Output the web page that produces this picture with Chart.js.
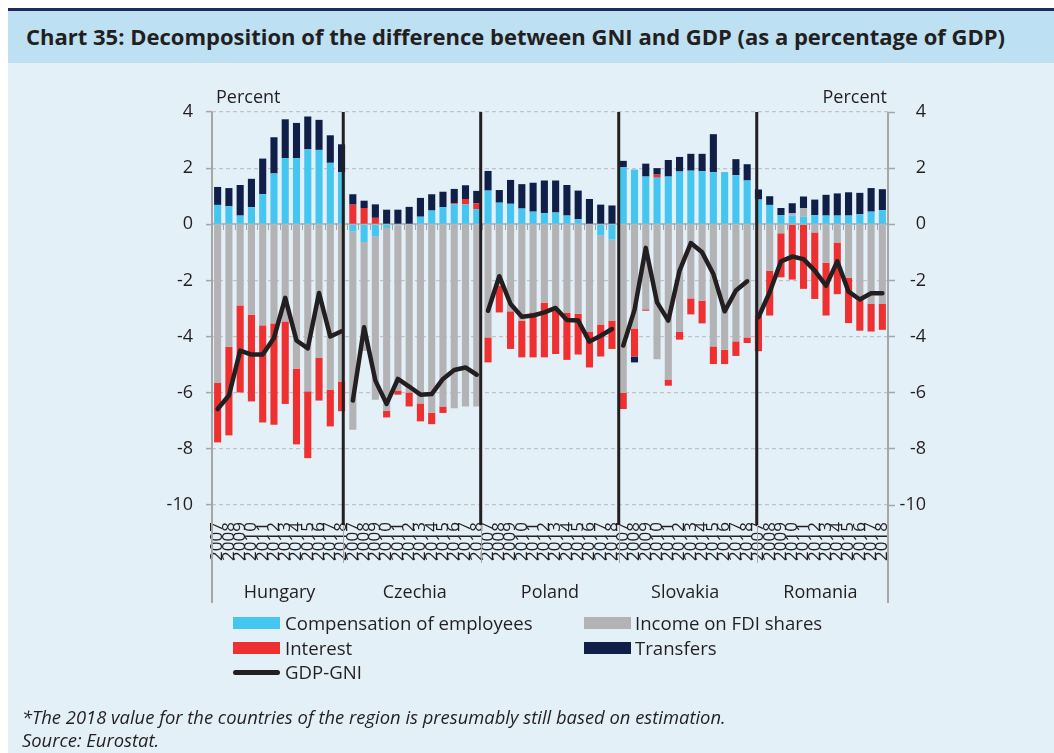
<!DOCTYPE html>
<html>
<head>
<meta charset="utf-8">
<script src="https://cdn.jsdelivr.net/npm/chart.js@4.4.1/dist/chart.umd.min.js"></script>
<style>
  html, body { margin: 0; padding: 0; background: #ffffff; }
  #page { position: relative; width: 1054px; height: 753px; overflow: hidden;
          font-family: "Open Sans", sans-serif; color: #231F20; }
  .rule  { position: absolute; left: 8px; top: 8px; width: 1046px; height: 3px; background: #1d2a5b; }
  .band  { position: absolute; left: 8px; top: 11px; width: 1046px; height: 52px; background: #BEE0F3; }
  .panel { position: absolute; left: 8px; top: 63px; width: 1046px; height: 690px; background: #E3F0F8; }
  #title { position: absolute; left: 26px; top: 21px; font-size: 22px; line-height: 30px; font-weight: 700;
           white-space: nowrap; transform-origin: 0 50%; }
  #chart { position: absolute; left: 0; top: 63px; }
  .unit  { position: absolute; top: 84px; font-size: 18px; line-height: 24px; white-space: nowrap; }
  .key   { position: absolute; font-size: 18.6px; line-height: 24px; white-space: nowrap; }
  .sw    { position: absolute; width: 47px; height: 12px; }
  .ln    { position: absolute; width: 47px; height: 5px; border-radius: 3px; background: #231F20; }
  .note  { position: absolute; left: 22px; font-size: 18.4px; line-height: 22px; font-style: italic; white-space: nowrap; }
</style>
</head>
<body>
<div id="page">
  <div class="rule"></div>
  <div class="band"></div>
  <div class="panel"></div>
  <div id="title">Chart 35: Decomposition of the difference between GNI and GDP (as a percentage of GDP)</div>
  <canvas id="chart" width="1054" height="690"></canvas>
  <div class="unit" style="left:216px;">Percent</div>
  <div class="unit" style="right:167px;">Percent</div>

  <div class="sw" style="left:233px; top:617px; background:#45C6F0;"></div>
  <div class="key" style="left:285px; top:611px;">Compensation of employees</div>
  <div class="sw" style="left:584px; top:617px; background:#B3B3B5;"></div>
  <div class="key" style="left:635px; top:611px;">Income on FDI shares</div>
  <div class="sw" style="left:233px; top:642px; background:#EE3030;"></div>
  <div class="key" style="left:285px; top:636px;">Interest</div>
  <div class="sw" style="left:584px; top:642px; background:#101F47;"></div>
  <div class="key" style="left:635px; top:636px;">Transfers</div>
  <div class="ln" style="left:233px; top:670px;"></div>
  <div class="key" style="left:285px; top:660px;">GDP-GNI</div>

  <div class="note" style="top:706px;">*The 2018 value for the countries of the region is presumably still based on estimation.</div>
  <div class="note" style="top:729px;">Source: Eurostat.</div>
</div>

<script>
// Countries and years: each country block holds the twelve years 2007-2018.
const countries = ['Hungary', 'Czechia', 'Poland', 'Slovakia', 'Romania'];
const years = ['2007', '2008', '2009', '2010', '2011', '2012', '2013', '2014', '2015', '2016', '2017', '2018'];

// Components of the GNI-GDP difference, percent of GDP (country blocks in the order above)
const compensation = [
   0.69,  0.64,  0.31,  0.61,  1.07,  1.81,  2.36,  2.36,  2.67,  2.65,  2.19,  1.85,
  -0.25, -0.63, -0.43, -0.13, -0.03,  0.02,  0.27,  0.49,  0.61,  0.71,  0.71,  0.54,
   1.20,  0.77,  0.73,  0.56,  0.45,  0.40,  0.42,  0.31,  0.18,  0.00, -0.40, -0.54,
   2.03,  1.95,  1.70,  1.66,  1.70,  1.88,  1.91,  1.89,  1.86,  1.86,  1.75,  1.56,
   0.88,  0.69,  0.33,  0.31,  0.27,  0.33,  0.31,  0.31,  0.31,  0.36,  0.45,  0.50
];
const fdiIncome = [
  -5.65, -4.36, -2.89, -3.22, -3.60, -3.53, -3.46, -5.14, -5.95, -4.76, -5.90, -5.60,
  -7.07, -3.88, -5.82, -6.51, -5.89, -5.99, -6.38, -6.71, -6.49, -6.55, -6.49, -6.49,
  -4.03, -2.19, -3.10, -3.43, -3.14, -2.79, -2.98, -3.16, -3.19, -3.82, -3.17, -2.89,
  -6.01, -3.71, -3.03, -4.81, -5.53, -3.82, -2.64, -2.72, -4.35, -4.47, -4.17, -4.03,
  -3.25, -1.65, -0.32,  0.08,  0.31, -0.29, -1.37, -0.65, -1.91, -2.70, -2.84, -2.84
];
const interest = [
  -2.12, -3.16, -3.10, -3.09, -3.46, -3.61, -2.94, -2.70, -2.38, -1.52, -1.30, -1.06,
   0.70,  0.58,  0.23, -0.24, -0.15, -0.50, -0.64, -0.41, -0.23,  0.04,  0.19,  0.21,
  -0.89, -0.95, -1.34, -1.31, -1.60, -1.95, -1.64, -1.67, -1.45, -1.28, -1.14, -1.01,
  -0.57, -1.00, -0.05,  0.11, -0.22, -0.29, -0.57, -0.81, -0.63, -0.51, -0.52, -0.20,
  -1.27, -1.60, -1.57, -1.97, -2.30, -2.37, -1.88, -1.84, -1.61, -1.09, -0.98, -0.92
];
const transfers = [
   0.64,  0.65,  1.09,  1.01,  1.27,  1.29,  1.38,  1.25,  1.17,  1.07,  0.98,  1.00,
   0.37,  0.26,  0.48,  0.52,  0.52,  0.60,  0.67,  0.58,  0.55,  0.51,  0.49,  0.44,
   0.70,  0.45,  0.85,  0.87,  1.03,  1.16,  1.14,  1.09,  1.02,  0.90,  0.70,  0.67,
   0.23, -0.21,  0.46,  0.23,  0.59,  0.52,  0.60,  0.62,  1.35,  0.00,  0.57,  0.58,
   0.36,  0.31,  0.25,  0.36,  0.41,  0.55,  0.74,  0.79,  0.83,  0.76,  0.84,  0.75
];
const gdpGni = [
  -6.58, -6.10, -4.50, -4.64, -4.64, -4.05, -2.62, -4.14, -4.42, -2.45, -4.00, -3.81,
  -6.28, -3.67, -5.57, -6.40, -5.51, -5.78, -6.07, -6.05, -5.51, -5.19, -5.10, -5.36,
  -3.08, -1.85, -2.84, -3.29, -3.25, -3.14, -2.98, -3.41, -3.43, -4.18, -3.97, -3.73,
  -4.32, -3.05, -0.84, -2.78, -3.43, -1.65, -0.67, -1.00, -1.77, -3.10, -2.36, -2.03,
  -3.31, -2.42, -1.32, -1.15, -1.24, -1.65, -2.19, -1.32, -2.40, -2.68, -2.46, -2.46
];
const yTicks = [4, 2, 0, -2, -4, -6, -8, -10];

const labels = countries.flatMap(() => years);
const INK = '#231F20';
const AXIS = '#A6A6A6';

// Fit the heading to the width of the band
(function () {
  const t = document.getElementById('title');
  const w = t.getBoundingClientRect().width;
  t.style.transform = 'scaleX(' + (979 / w) + ')';
})();

// Zero line with category ticks, axis lines, country dividers and names
const frame = {
  id: 'frame',
  beforeDatasetsDraw(chart) {
    const { ctx, chartArea: a, scales: { x, y } } = chart;
    const y0 = Math.round(y.getPixelForValue(0));
    ctx.save();
    ctx.strokeStyle = AXIS;
    ctx.lineWidth = 1.5;
    ctx.beginPath();
    ctx.moveTo(a.left, y0); ctx.lineTo(a.right, y0);
    ctx.stroke();
    ctx.lineWidth = 1;
    ctx.beginPath();
    for (let i = 1; i < labels.length; i++) {
      const px = Math.round((x.getPixelForTick(i - 1) + x.getPixelForTick(i)) / 2) + 0.5;
      ctx.moveTo(px, y0); ctx.lineTo(px, y0 + 6);
    }
    ctx.stroke();
    ctx.restore();
  },
  afterDatasetsDraw(chart, args, o) {
    const { ctx, chartArea: a, scales: { x } } = chart;
    ctx.save();
    // vertical axis lines running down through the category labels
    ctx.strokeStyle = AXIS;
    ctx.lineWidth = 2;
    ctx.beginPath();
    ctx.moveTo(a.left, a.top); ctx.lineTo(a.left, a.bottom + 98);
    ctx.moveTo(a.right, a.top); ctx.lineTo(a.right, a.bottom + 98);
    ctx.stroke();
    // thin dividers between country blocks inside the year labels
    ctx.lineWidth = 1;
    ctx.beginPath();
    o.dividers.forEach(v => {
      const px = Math.round(x.getPixelForValue(v)) + 0.5;
      ctx.moveTo(px, a.bottom); ctx.lineTo(px, a.bottom + 58);
    });
    ctx.stroke();
    // heavy separators between countries
    ctx.strokeStyle = INK;
    ctx.lineWidth = 3;
    ctx.beginPath();
    o.dividers.forEach(v => {
      const px = x.getPixelForValue(v);
      ctx.moveTo(px, a.top); ctx.lineTo(px, a.bottom + 20);
    });
    ctx.stroke();
    // country names under each block
    ctx.fillStyle = INK;
    ctx.font = '18px "Open Sans"';
    ctx.textAlign = 'center';
    ctx.textBaseline = 'alphabetic';
    countries.forEach((c, k) => {
      const first = x.getPixelForTick(k * years.length);
      const last = x.getPixelForTick(k * years.length + years.length - 1);
      ctx.fillText(c, (first + last) / 2, a.bottom + 93);
    });
    ctx.restore();
  }
};

const bar = (label, data, color) => ({
  type: 'bar', label, data, backgroundColor: color, borderWidth: 0,
  stack: 'parts', order: 1, categoryPercentage: 1, barPercentage: 0.63
});

new Chart(document.getElementById('chart'), {
  data: {
    labels,
    datasets: [
      {
        type: 'line', label: 'GDP-GNI', data: gdpGni, stack: 'gap', order: 0,
        borderColor: INK, borderWidth: 4.5, pointRadius: 0, tension: 0,
        borderJoinStyle: 'round', borderCapStyle: 'round',
        segment: {
          borderColor: c => (c.p0DataIndex % years.length === years.length - 1) ? 'rgba(0,0,0,0)' : INK
        }
      },
      bar('Compensation of employees', compensation, '#45C6F0'),
      bar('Income on FDI shares', fdiIncome, '#B3B3B5'),
      bar('Interest', interest, '#EE3030'),
      bar('Transfers', transfers, '#101F47')
    ]
  },
  options: {
    responsive: false,
    animation: false,
    devicePixelRatio: 1,
    layout: { padding: { left: 0, right: 128, top: 49, bottom: 148 } },
    plugins: {
      legend: { display: false },
      tooltip: { enabled: false },
      frame: { dividers: [11.15, 23.35, 35.6, 47.85] }
    },
    scales: {
      x: {
        stacked: true,
        offset: true,
        grid: { display: false, drawTicks: false },
        border: { display: false },
        ticks: {
          autoSkip: false, minRotation: 90, maxRotation: 90, padding: 17,
          color: INK, font: { family: 'Open Sans', size: 17 }
        },
        afterFit: s => { s.height = 100; }
      },
      y: {
        stacked: true,
        position: 'left',
        min: -10, max: 4,
        afterBuildTicks: s => { s.ticks = yTicks.map(v => ({ value: v })); },
        grid: {
          color: c => (c.tick && c.tick.value === 0) ? 'rgba(0,0,0,0)' : '#C3C3C3',
          lineWidth: 1.2, tickLength: 6, tickColor: AXIS, tickWidth: 1.5
        },
        border: { display: false, dash: [4, 3] },
        ticks: { padding: 13, color: INK, font: { family: 'Open Sans', size: 18 } },
        afterFit: s => { s.width = 212; }
      },
      y2: {
        position: 'right',
        min: -10, max: 4,
        afterBuildTicks: s => { s.ticks = yTicks.map(v => ({ value: v })); },
        grid: { drawOnChartArea: false, tickLength: 7, tickColor: AXIS, tickWidth: 1.5 },
        border: { display: false },
        ticks: { crossAlign: 'far', color: INK, font: { family: 'Open Sans', size: 18 } },
        afterFit: s => { s.width = 38; }
      }
    }
  },
  plugins: [frame]
});
</script>
</body>
</html>
